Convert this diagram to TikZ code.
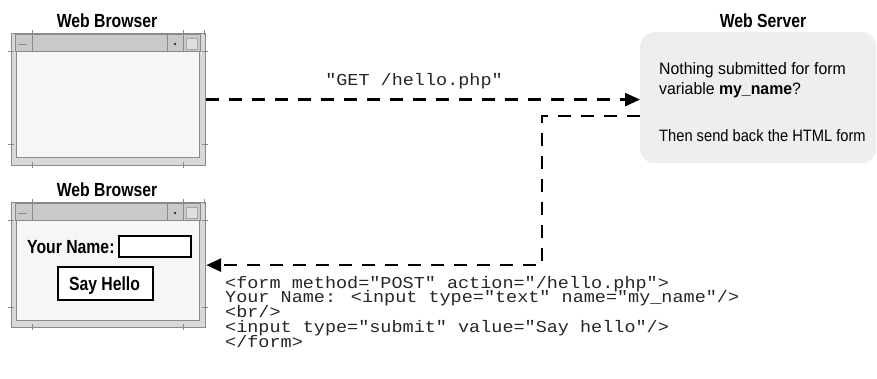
\documentclass[tikz,border=0pt]{standalone}
\usepackage{fontspec}
\setmainfont{Liberation Sans}
\newfontfamily\headfont[FakeStretch=0.83]{Liberation Sans}
\newfontfamily\notefont[FakeStretch=0.96]{Liberation Sans}
\newfontfamily\notefontnarrow[FakeStretch=0.89]{Liberation Sans}
\newfontfamily\codefont[FakeStretch=1.107]{Liberation Mono}
\usetikzlibrary{arrows.meta,calc}

\definecolor{framegray}{HTML}{8A8A8A}
\definecolor{stripgray}{HTML}{D9D9D9}
\definecolor{titlegray}{HTML}{C9C9C9}
\definecolor{paneshade}{HTML}{F6F6F6}
\definecolor{servergray}{HTML}{EEEEEE}

\tikzset{
  winframe/.style={draw=framegray, line width=1.2pt, fill=stripgray,
    minimum width=194pt, anchor=north west, inner sep=0pt},
  winline/.style={draw=framegray, line width=1pt},
  heading/.style={font=\headfont\bfseries\fontsize{19}{21}\selectfont,
    anchor=base, inner sep=0pt},
  formlabel/.style={font=\headfont\bfseries\fontsize{19}{21}\selectfont,
    inner sep=0pt},
  note/.style={font=\notefont\fontsize{16.5}{19}\selectfont,
    anchor=base west, inner sep=0pt},
  codetext/.style={font=\codefont\fontsize{16.7}{14.75}\selectfont,
    anchor=base west, inner sep=0pt, text=black!85},
  flow/.style={line width=2.6pt, dash pattern=on 13pt off 10pt,
    -{Triangle[length=15pt,width=13pt]}},
}

% A browser window: name, top-left corner (x,y), height
\newcommand\browserframe[4]{%
  \begin{scope}[shift={(#2,#3)}]
    \node[winframe, minimum height=#4pt] (#1) at (0,0) {};
    % title bar and its buttons
    \draw[winline, fill=titlegray] (4,2) rectangle (189,19);
    \draw[winline] (4,2) rectangle (21,19);
    \draw[winline] (7,12) -- (16,12);
    \draw[winline] (156,2) rectangle (172,19);
    \fill[black!80] (164,11) circle (1.3pt);
    \draw[winline] (172,2) rectangle (189,19);
    \draw[draw=gray!70, fill=gray!25] (175,5) rectangle (186,16);
    % window pane
    \draw[winline, fill=paneshade] (5,19) rectangle (188,{#4-7});
    % resize handles on the border
    \draw[winline] (21,-3) -- (21,2);
    \draw[winline] (172,-3) -- (172,2);
    \draw[winline] (193,-3) -- (193,2);
    \draw[winline] (21,{#4-3}) -- (21,{#4+3});
    \draw[winline] (172,{#4-3}) -- (172,{#4+3});
    \draw[winline] (-3,19) -- (3,19);
    \draw[winline] (-3,{#4-20}) -- (3,{#4-20});
    \draw[winline] (191,19) -- (197,19);
    \draw[winline] (191,{#4-20}) -- (197,{#4-20});
  \end{scope}%
}

% lines of code stacked at a fixed baseline distance, baseline = first line
\newcommand\codelines[1]{\vtop{\baselineskip=14.75pt\lineskiplimit=-100pt #1}}

\begin{document}
\begin{tikzpicture}[x=1pt, y=-1pt]
  \useasboundingbox (0,0) rectangle (877,379);

  % client side: two browser windows
  \node[heading] (t1) at (107,28) {Web Browser};
  \browserframe{b1}{11}{33}{132}

  \node[heading] (t2) at (107,197) {Web Browser};
  \browserframe{b2}{11}{202}{125}

  % the form shown in the second window
  \node[formlabel, anchor=base west] (lbl) at (27,253) {Your Name:};
  \node[draw=black, line width=2pt, fill=white, anchor=north west,
        minimum width=72pt, minimum height=21pt, inner sep=0pt] (field) at (118,235) {};
  \node[draw=black, line width=2.4pt, fill=white, anchor=north west,
        minimum width=95pt, minimum height=33pt, inner sep=0pt] (btn) at (57,266) {};
  \node[formlabel, anchor=base] (btntext) at (104.5,290) {Say Hello};

  % server side
  \node[heading] (t3) at (763,28) {Web Server};
  \node[fill=servergray, rounded corners=14pt, anchor=north west,
        minimum width=236pt, minimum height=131pt, inner sep=0pt] (srv) at (640,32) {};
  \node[note] (n1) at (659,75) {Nothing submitted for form};
  \node[note] (n2) at (659,95) {variable \textbf{my\_name}?};
  \node[note, font=\notefontnarrow\fontsize{16.5}{19}\selectfont] (n3) at (659,142)
       {Then send back the HTML form};

  % request
  \draw[flow] (b1.east) -- (b1.east -| srv.west);
  \node[codetext, anchor=base] (req) at (414,86) {"GET /hello.php"};

  % response
  \coordinate (ret) at ($(srv.west)+(0,18.5)$);
  \coordinate (bend) at (ret -| 542,0);
  \draw[flow] (ret) -- (bend) |- (b2.east);

  \node[codetext] (code) at (225,288) {\codelines{%
    \hbox{<form method="POST" action="/hello.php">}
    \hbox{Your Name: <input type="text" name="my\_name"/>}
    \hbox{<br/>}
    \hbox{<input type="submit" value="Say hello"/>}
    \hbox{</form>}}};
\end{tikzpicture}
\end{document}
